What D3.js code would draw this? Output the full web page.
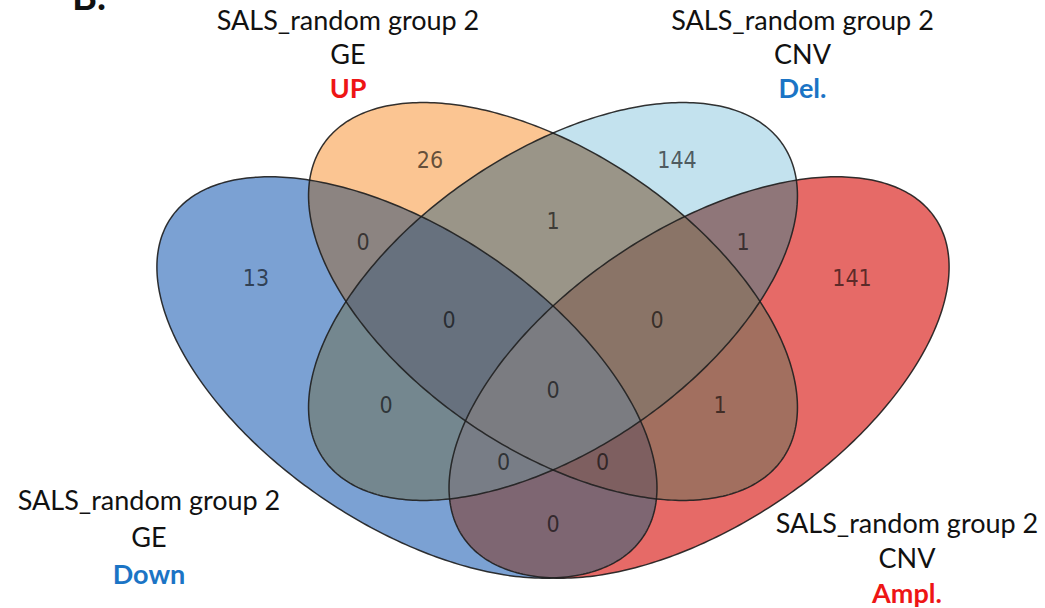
<!DOCTYPE html>
<html><head><meta charset="utf-8">
<script src="https://cdn.jsdelivr.net/npm/d3@7"></script>
<style>body{margin:0;background:#fff}svg{display:block}</style>
</head><body><svg id="chart" width="1045" height="608"></svg>
<script>
// ---- data ----
// set order: 0 = GE Down (blue), 1 = GE UP (orange), 2 = CNV Del. (light blue), 3 = CNV Ampl. (red)
const setTitles = ["SALS_random group 2", "SALS_random group 2", "SALS_random group 2", "SALS_random group 2"];
const setTypes = ["GE", "GE", "CNV", "CNV"];
const setDirections = ["Down", "UP", "Del.", "Ampl."];
const directionColors = ["#1b74c5", "#ee1515", "#1b74c5", "#ee1515"];
// region membership (bits in set order) and counts
const regionKeys   = ["1000","0100","0010","0001","1100","0110","0011","1110","0111","1010","0101","1111","1011","1101","1001"];
const regionCounts = [13, 26, 144, 141, 0, 1, 1, 0, 0, 0, 1, 0, 0, 0, 0];
const regionColors = ["#7ba1d3","#fbc592","#c3e2ee","#e66a67","#8c8481","#9a9588","#8f7679",
                      "#67717e","#8a7467","#74878f","#a26f5f","#7b7c81","#787d86","#7e5f60","#7e6672"];

// ---- layout (in diagram units, y up) ----
const ellipseLayout = [
  {cx: 31.65, cy: 25.19, rx: 35.79, ry: 18.48, rot: -34.03},
  {cx: 50.00, cy: 34.74, rx: 34.96, ry: 18.59, rot: -34.35},
  {cx: 50.00, cy: 34.74, rx: 34.96, ry: 18.59, rot:  34.35},
  {cx: 68.35, cy: 25.19, rx: 35.79, ry: 18.48, rot:  34.03}
];
const regionLabelPos = [[12.69,36.68],[34.55,51.51],[65.58,51.51],[87.56,36.68],[26.13,41.21],[50,43.84],[73.87,41.21],
  [36.93,31.41],[63.07,31.41],[29.02,20.73],[70.98,20.73],[50,22.61],[43.78,13.57],[56.22,13.57],[50,5.78]];
const titlePos = [[-0.75, 8.54, -4.65], [24.25, 68.84, -4.3], [81.35, 68.84, -4.3], [94.47, 5.65, -4.4]]; // x, first baseline, line step

const W = 1045, H = 608;
const x = d3.scaleLinear().domain([0, 100]).range([155, 951]);
const y = d3.scaleLinear().domain([0, 60]).range([578, 100.4]);

const svg = d3.select("#chart");
const defs = svg.append("defs");

function ellipsePoints(e) {
  const r = e.rot * Math.PI / 180, pts = [];
  for (let i = 0; i < 360; i++) {
    const t = 2 * Math.PI * i / 360, ex = e.rx * Math.cos(t), ey = e.ry * Math.sin(t);
    pts.push([e.cx + ex * Math.cos(r) - ey * Math.sin(r), e.cy + ex * Math.sin(r) + ey * Math.cos(r)]);
  }
  return pts;
}
const line = d3.line().x(d => x(d[0])).y(d => y(d[1])).curve(d3.curveLinearClosed);
const paths = ellipseLayout.map(e => line(ellipsePoints(e)));

paths.forEach((p, i) => defs.append("clipPath").attr("id", "clip-" + i).append("path").attr("d", p));

const regionLayer = svg.append("g");
regionKeys.forEach((key, k) => {
  const bits = key.split("");
  let parent = regionLayer;
  bits.forEach((b, i) => { if (b === "1") parent = parent.append("g").attr("clip-path", `url(#clip-${i})`); });
  const m = defs.append("mask").attr("id", "mask-" + k).attr("maskUnits", "userSpaceOnUse")
    .attr("x", 0).attr("y", 0).attr("width", W).attr("height", H);
  m.append("rect").attr("width", W).attr("height", H).attr("fill", "#fff");
  bits.forEach((b, i) => { if (b === "0") m.append("path").attr("d", paths[i]).attr("fill", "#000"); });
  parent.append("rect").attr("width", W).attr("height", H).attr("fill", regionColors[k]).attr("mask", `url(#mask-${k})`);
});

svg.append("g").selectAll("path").data(paths).join("path")
  .attr("d", d => d).attr("fill", "none").attr("stroke", "#1c1c1c").attr("stroke-width", 1.5).attr("stroke-opacity", 0.9);

svg.append("g").selectAll("text").data(regionCounts).join("text")
  .attr("x", (d, i) => x(regionLabelPos[i][0])).attr("y", (d, i) => y(regionLabelPos[i][1]))
  .attr("text-anchor", "middle")
  .style("font-family", "'DejaVu Sans Condensed', 'DejaVu Sans', sans-serif").style("font-stretch", "condensed")
  .style("font-size", "23px").attr("fill", "#000").attr("fill-opacity", 0.62)
  .text(d => d);

const titles = svg.append("g").style("font-family", "Lato, 'Open Sans', sans-serif");
setTitles.forEach((t, i) => {
  const [tx, ty, step] = titlePos[i];
  const lines = [[t, "#111", 400], [setTypes[i], "#111", 400], [setDirections[i], directionColors[i], 700]];
  lines.forEach((l, j) => {
    titles.append("text").attr("x", x(tx)).attr("y", y(ty + step * j)).attr("text-anchor", "middle")
      .style("font-size", "27px").style("font-weight", l[2]).attr("fill", l[1]).text(l[0]);
  });
});

svg.append("text").attr("x", 72).attr("y", 10).style("font-family", "Lato, sans-serif")
  .style("font-weight", 700).style("font-size", "38px").attr("fill", "#111").text("B.");
</script></body></html>
